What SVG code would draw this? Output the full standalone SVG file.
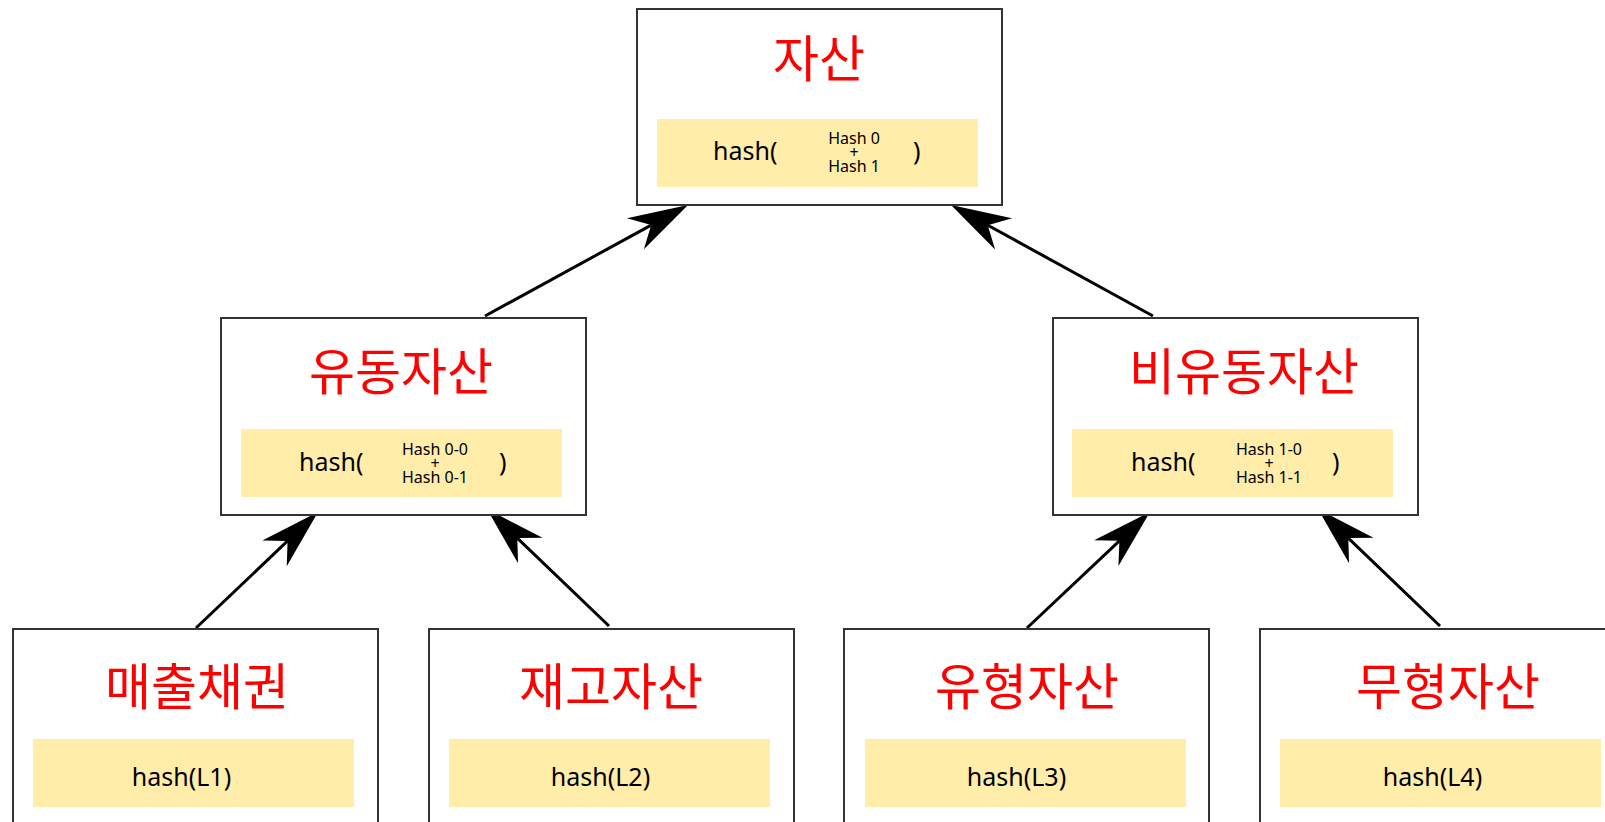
<svg xmlns="http://www.w3.org/2000/svg" width="1605" height="822" viewBox="0 0 1605 822">
<style>
.box{fill:#fff;stroke:#333;stroke-width:2}
.hl{fill:#FFEDA9;stroke:none}
.title{font-family:"Noto Sans CJK KR","Noto Sans",sans-serif;font-size:50px;fill:#FF0000;text-anchor:middle}
.h{font-family:"Noto Sans","Liberation Sans",sans-serif;font-size:25px;fill:#000}
.s{font-family:"Noto Sans","Liberation Sans",sans-serif;font-size:16px;fill:#000;text-anchor:middle}
.c{text-anchor:middle}
.edge{stroke:#000;stroke-width:3;fill:none;marker-end:url(#arr)}
</style>
<defs>
<marker id="arr" markerUnits="userSpaceOnUse" orient="auto" markerWidth="62" markerHeight="37" refX="18" refY="18" overflow="visible">
<path d="M60,18 L0,0.3 L18,18 L0,35.7 Z" fill="#000"/>
</marker>
</defs>
<rect width="1605" height="822" fill="#fff"/>
<g id="connectors">
<line class="edge" x1="485" y1="316" x2="651.2" y2="225.1"/>
<line class="edge" x1="1153" y1="316" x2="987.8" y2="225.2"/>
<line class="edge" x1="196" y1="628" x2="287.6" y2="540.9"/>
<line class="edge" x1="609" y1="626" x2="517.3" y2="538.1"/>
<line class="edge" x1="1027" y1="628" x2="1119.4" y2="540.8"/>
<line class="edge" x1="1440" y1="626" x2="1348.3" y2="538.1"/>
<line class="edge" x1="198" y1="960" x2="198" y2="862"/>
<line class="edge" x1="611" y1="960" x2="611" y2="860"/>
<line class="edge" x1="1027" y1="960" x2="1027" y2="862"/>
<line class="edge" x1="1442" y1="960" x2="1442" y2="862"/>
</g>
<g id="node-root">
<rect class="box" x="637" y="9" width="365" height="196"/>
<text class="title" x="819" y="77">자산</text>
<rect class="hl" x="657" y="119" width="321" height="68"/>
<text class="h" x="713" y="160">hash(</text>
<text class="s"><tspan x="854" y="144">Hash 0</tspan><tspan x="854" y="158">+</tspan><tspan x="854" y="171.5">Hash 1</tspan></text>
<text class="h" x="913" y="160">)</text>
</g>
<g id="node-current">
<rect class="box" x="221" y="318" width="365" height="197"/>
<text class="title" x="401" y="390">유동자산</text>
<rect class="hl" x="241" y="429" width="321" height="68"/>
<text class="h" x="299" y="471">hash(</text>
<text class="s"><tspan x="435" y="455">Hash 0-0</tspan><tspan x="435" y="469">+</tspan><tspan x="435" y="482.5">Hash 0-1</tspan></text>
<text class="h" x="499" y="471">)</text>
</g>
<g id="node-noncurrent">
<rect class="box" x="1053" y="318" width="365" height="197"/>
<text class="title" x="1244" y="390">비유동자산</text>
<rect class="hl" x="1072" y="429" width="321" height="68"/>
<text class="h" x="1131" y="471">hash(</text>
<text class="s"><tspan x="1269" y="455">Hash 1-0</tspan><tspan x="1269" y="469">+</tspan><tspan x="1269" y="482.5">Hash 1-1</tspan></text>
<text class="h" x="1332" y="471">)</text>
</g>
<g id="node-receivables">
<rect class="box" x="13" y="629" width="365" height="196"/>
<text class="title" x="197" y="705">매출채권</text>
<rect class="hl" x="33" y="739" width="321" height="68"/>
<text class="h c" x="181.5" y="786">hash(L1)</text>
</g>
<g id="node-inventory">
<rect class="box" x="429" y="629" width="365" height="196"/>
<text class="title" x="611" y="705">재고자산</text>
<rect class="hl" x="449" y="739" width="321" height="68"/>
<text class="h c" x="600.5" y="786">hash(L2)</text>
</g>
<g id="node-tangible">
<rect class="box" x="844" y="629" width="365" height="196"/>
<text class="title" x="1027" y="705">유형자산</text>
<rect class="hl" x="865" y="739" width="321" height="68"/>
<text class="h c" x="1016.5" y="786">hash(L3)</text>
</g>
<g id="node-intangible">
<rect class="box" x="1260" y="629" width="365" height="196"/>
<text class="title" x="1448" y="705">무형자산</text>
<rect class="hl" x="1280" y="739" width="321" height="68"/>
<text class="h c" x="1432.5" y="786">hash(L4)</text>
</g>
</svg>
